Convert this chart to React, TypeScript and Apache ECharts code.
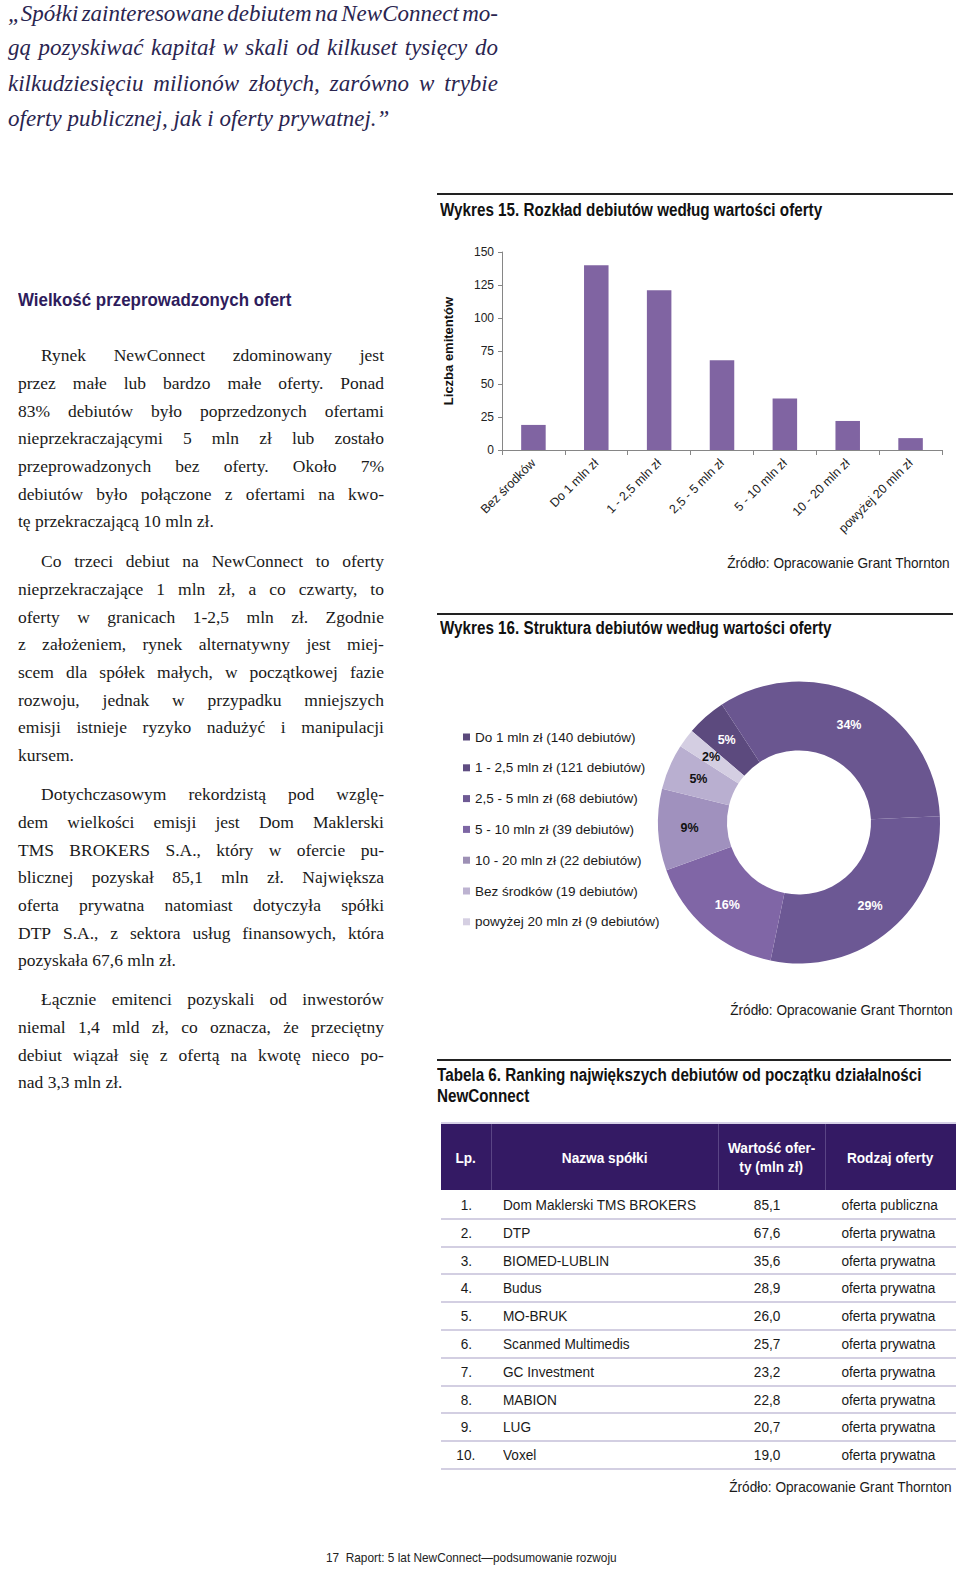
import React, { useEffect, useRef } from "react";
import * as echarts from "echarts";

// ---------- DATA ----------
const categories = [
  "Bez środków",
  "Do 1 mln zł",
  "1 - 2,5 mln zł",
  "2,5 - 5 mln zł",
  "5 - 10 mln zł",
  "10 - 20 mln zł",
  "powyżej 20 mln zł",
];
const debutCounts = [19, 140, 121, 68, 39, 22, 9];
const yMin = 0;
const yMax = 150;
const yInterval = 25;

const pieSliceNames = [
  "Bez środków (19 debiutów)",
  "Do 1 mln zł (140 debiutów)",
  "1 - 2,5 mln zł (121 debiutów)",
  "2,5 - 5 mln zł (68 debiutów)",
  "5 - 10 mln zł (39 debiutów)",
  "10 - 20 mln zł (22 debiutów)",
  "powyżej 20 mln zł (9 debiutów)",
];
const pieSliceColors = ["#5c4a7e", "#6a5690", "#6c5894", "#8066a6", "#a091be", "#b9afd0", "#d4cee2"];
const pieLabelColors = ["#ffffff", "#ffffff", "#ffffff", "#ffffff", "#111111", "#111111", "#111111"];
const legendOrder = [
  "Do 1 mln zł (140 debiutów)",
  "1 - 2,5 mln zł (121 debiutów)",
  "2,5 - 5 mln zł (68 debiutów)",
  "5 - 10 mln zł (39 debiutów)",
  "10 - 20 mln zł (22 debiutów)",
  "Bez środków (19 debiutów)",
  "powyżej 20 mln zł (9 debiutów)",
];
const legendColors = ["#5b4a7c", "#5f4d82", "#6e5a94", "#7d66a4", "#9d90b5", "#bdb3d1", "#d5cfe2"];

const tableHeader = ["Lp.", "Nazwa spółki", "Wartość ofer-\nty (mln zł)", "Rodzaj oferty"];
const tableLp = ["1.", "2.", "3.", "4.", "5.", "6.", "7.", "8.", "9.", "10."];
const tableNames = [
  "Dom Maklerski TMS BROKERS",
  "DTP",
  "BIOMED-LUBLIN",
  "Budus",
  "MO-BRUK",
  "Scanmed Multimedis",
  "GC Investment",
  "MABION",
  "LUG",
  "Voxel",
];
const tableValues = ["85,1", "67,6", "35,6", "28,9", "26,0", "25,7", "23,2", "22,8", "20,7", "19,0"];
const tableTypes = [
  "oferta publiczna",
  "oferta prywatna",
  "oferta prywatna",
  "oferta prywatna",
  "oferta prywatna",
  "oferta prywatna",
  "oferta prywatna",
  "oferta prywatna",
  "oferta prywatna",
  "oferta prywatna",
];

const quoteLines = [
  "„Spółki zainteresowane debiutem na NewConnect mo-",
  "gą pozyskiwać kapitał w skali od kilkuset tysięcy do",
  "kilkudziesięciu milionów złotych, zarówno w trybie",
  "oferty publicznej, jak i oferty prywatnej.”",
];

const paragraphs: { top: number; lines: string[] }[] = [
  {
    top: 356,
    lines: [
      "Rynek NewConnect zdominowany jest",
      "przez małe lub bardzo małe oferty. Ponad",
      "83% debiutów było poprzedzonych ofertami",
      "nieprzekraczającymi 5 mln zł lub zostało",
      "przeprowadzonych bez oferty. Około 7%",
      "debiutów było połączone z ofertami na kwo-",
      "tę przekraczającą 10 mln zł.",
    ],
  },
  {
    top: 562,
    lines: [
      "Co trzeci debiut na NewConnect to oferty",
      "nieprzekraczające 1 mln zł, a co czwarty, to",
      "oferty w granicach 1-2,5 mln zł. Zgodnie",
      "z założeniem, rynek alternatywny jest miej-",
      "scem dla spółek małych, w początkowej fazie",
      "rozwoju, jednak w przypadku mniejszych",
      "emisji istnieje ryzyko nadużyć i manipulacji",
      "kursem.",
    ],
  },
  {
    top: 795,
    lines: [
      "Dotychczasowym rekordzistą pod wzglę-",
      "dem wielkości emisji jest Dom Maklerski",
      "TMS BROKERS S.A., który w ofercie pu-",
      "blicznej pozyskał 85,1 mln zł. Największa",
      "oferta prywatna natomiast dotyczyła spółki",
      "DTP S.A., z sektora usług finansowych, która",
      "pozyskała 67,6 mln zł.",
    ],
  },
  {
    top: 1000,
    lines: [
      "Łącznie emitenci pozyskali od inwestorów",
      "niemal 1,4 mld zł, co oznacza, że przeciętny",
      "debiut wiązał się z ofertą na kwotę nieco po-",
      "nad 3,3 mln zł.",
    ],
  },
];

// ---------- STYLE ----------
const SANS = "'Liberation Sans', Arial, sans-serif";
const SERIF = "'Liberation Serif', 'Times New Roman', serif";

const JustLine: React.FC<{ text: string; justify: boolean; style?: React.CSSProperties }> = ({ text, justify, style }) => {
  if (!justify) {
    return <div style={{ whiteSpace: "nowrap", ...style }}>{text}</div>;
  }
  const words = text.split(" ");
  return (
    <div style={{ display: "flex", justifyContent: "space-between", whiteSpace: "nowrap", ...style }}>
      {words.map((w, i) => (
        <span key={i}>{w}</span>
      ))}
    </div>
  );
};

const Sq: React.FC<{ k: number; origin: string; pre?: boolean; children: React.ReactNode }> = ({ k, origin, pre, children }) => (
  <span
    style={{
      display: "inline-block",
      transform: `scaleX(${k})`,
      transformOrigin: origin,
      whiteSpace: pre ? "pre" : "nowrap",
    }}
  >
    {children}
  </span>
);

const abs = (left: number, top: number, extra: React.CSSProperties = {}): React.CSSProperties => ({
  position: "absolute",
  left,
  top,
  ...extra,
});

export default function App() {
  const ref = useRef<HTMLDivElement>(null);

  useEffect(() => {
    document.body.style.margin = "0";
    if (!ref.current) return;
    const chart = echarts.init(ref.current, undefined, { renderer: "svg" });
    const y0 = 230;
    chart.setOption({
      animation: false,
      textStyle: { fontFamily: SANS },
      grid: { left: 72, top: 252 - y0, width: 440, height: 198, containLabel: false },
      xAxis: {
        type: "category",
        data: categories,
        axisLine: { lineStyle: { color: "#868686", width: 1 } },
        axisTick: { show: true, length: 5, lineStyle: { color: "#868686" } },
        axisLabel: { rotate: 45, interval: 0, fontSize: 12.5, color: "#222", margin: 11, fontFamily: SANS },
      },
      yAxis: {
        type: "value",
        min: yMin,
        max: yMax,
        interval: yInterval,
        name: "Liczba emitentów",
        nameLocation: "middle",
        nameGap: 47,
        nameRotate: 90,
        nameTextStyle: { fontSize: 13, fontWeight: "bold", color: "#111", fontFamily: SANS },
        axisLine: { show: true, lineStyle: { color: "#868686" } },
        axisTick: { show: true, length: 4, lineStyle: { color: "#868686" } },
        splitLine: { show: false },
        axisLabel: { fontSize: 12, color: "#222", margin: 8, fontFamily: SANS },
      },
      legend: {
        orient: "vertical",
        left: 28,
        top: 735 - y0 - 11,
        itemWidth: 7,
        itemHeight: 7,
        itemGap: 14.8,
        icon: "rect",
        selectedMode: false,
        textStyle: { fontSize: 13.5, color: "#1a1a1a", lineHeight: 16, fontFamily: SANS },
        data: legendOrder.map((n, i) => ({ name: n, itemStyle: { color: legendColors[i] } })),
      },
      series: [
        {
          type: "bar",
          data: debutCounts,
          barWidth: "39%",
          itemStyle: { color: "#8064a2" },
          xAxisIndex: 0,
          yAxisIndex: 0,
        },
        {
          type: "pie",
          center: [369, 822.5 - y0],
          radius: [72, 141],
          startAngle: 139.5,
          clockwise: true,
          percentPrecision: 0,
          label: {
            show: true,
            position: "inside",
            formatter: "{d}%",
            fontSize: 12.5,
            fontWeight: "bold",
            fontFamily: SANS,
          },
          labelLine: { show: false },
          itemStyle: { borderWidth: 0 },
          emphasis: { disabled: true },
          data: pieSliceNames.map((n, i) => ({
            name: n,
            value: debutCounts[i],
            itemStyle: { color: pieSliceColors[i] },
            label: { color: pieLabelColors[i] },
          })),
        },
      ],
    });
    return () => chart.dispose();
  }, []);

  const lineH = 27.7;
  const rowTop = 1191;
  const rowH = 27.8;

  const titleStyle = (left: number, cy: number): React.CSSProperties =>
    abs(left, cy - 11, {
      lineHeight: "22px",
      fontFamily: SANS,
      fontWeight: "bold",
      fontSize: 17.5,
      color: "#111",
      whiteSpace: "nowrap",
    });

  const sourceStyle = (right: number, cy: number): React.CSSProperties =>
    abs(right - 350, cy - 10, {
      width: 350,
      textAlign: "right",
      lineHeight: "20px",
      fontFamily: SANS,
      fontSize: 14.5,
      color: "#1a1a1a",
      whiteSpace: "nowrap",
    });

  return (
    <div style={{ position: "relative", width: 960, height: 1571, background: "#fff", overflow: "hidden" }}>
      {/* Quote */}
      {quoteLines.map((l, i) => (
        <JustLine
          key={i}
          text={l}
          justify={i < quoteLines.length - 1}
          style={abs(8, [14, 48, 84, 119][i] - 17, {
            width: 490,
            height: 34,
            lineHeight: "34px",
            fontFamily: SERIF,
            fontStyle: "italic",
            fontSize: 23,
            color: "#2a2550",
          })}
        />
      ))}

      {/* Heading */}
      <div
        style={abs(18, 300 - 12, {
          lineHeight: "24px",
          fontFamily: SANS,
          fontWeight: "bold",
          fontSize: 19,
          color: "#2e1c5c",
          whiteSpace: "nowrap",
        })}
      >
        <Sq k={0.89} origin="left center">Wielkość przeprowadzonych ofert</Sq>
      </div>

      {/* Body paragraphs */}
      {paragraphs.map((p, pi) =>
        p.lines.map((l, li) => {
          const isLast = li === p.lines.length - 1;
          const indent = li === 0 ? 23 : 0;
          return (
            <JustLine
              key={pi + "-" + li}
              text={l}
              justify={!isLast}
              style={abs(18 + indent, p.top + li * lineH - lineH / 2, {
                width: 366 - indent,
                height: lineH,
                lineHeight: lineH + "px",
                fontFamily: SERIF,
                fontSize: 17.5,
                color: "#1a1a1a",
              })}
            />
          );
        })
      )}

      {/* Right column headings and rules */}
      <div style={abs(437, 193, { width: 516, height: 2, background: "#222" })} />
      <div style={titleStyle(440, 210)}>
        <Sq k={0.87} origin="left center">Wykres 15. Rozkład debiutów według wartości oferty</Sq>
      </div>
      <div style={sourceStyle(950, 563)}>
        <Sq k={0.94} origin="right center">Źródło: Opracowanie Grant Thornton</Sq>
      </div>

      <div style={abs(437, 613, { width: 516, height: 2, background: "#222" })} />
      <div style={titleStyle(440, 628)}>
        <Sq k={0.87} origin="left center">Wykres 16. Struktura debiutów według wartości oferty</Sq>
      </div>
      <div style={sourceStyle(953, 1010)}>
        <Sq k={0.94} origin="right center">Źródło: Opracowanie Grant Thornton</Sq>
      </div>

      {/* Chart canvas */}
      <div ref={ref} style={abs(430, 230, { width: 530, height: 780 })} />

      {/* Table */}
      <div style={abs(437, 1059, { width: 514, height: 2, background: "#222" })} />
      <div style={titleStyle(437, 1075)}>
        <Sq k={0.87} origin="left center">Tabela 6. Ranking największych debiutów od początku działalności</Sq>
      </div>
      <div style={titleStyle(437, 1096)}>
        <Sq k={0.87} origin="left center">NewConnect</Sq>
      </div>

      <div style={abs(441, 1122, { width: 515, height: 2, background: "#d6d0e6" })} />
      <div style={abs(441, 1124, { width: 515, height: 66, background: "#341a64" })} />
      {[491, 718, 825].map((x, i) => (
        <div key={i} style={abs(x, 1124, { width: 1, height: 66, background: "#5a4585" })} />
      ))}
      {tableHeader.map((h, i) => {
        const cols = [441, 491, 718, 825, 956];
        const lines = h.split("\n");
        return (
          <div
            key={i}
            style={abs(cols[i], 1124, {
              width: cols[i + 1] - cols[i],
              height: 66,
              display: "flex",
              flexDirection: "column",
              justifyContent: "center",
              alignItems: "center",
              fontFamily: SANS,
              fontWeight: "bold",
              fontSize: 15.5,
              lineHeight: "19px",
              color: "#fff",
            })}
          >
            {lines.map((l, k) => (
              <div key={k} style={{ whiteSpace: "nowrap" }}>
                <Sq k={0.88} origin="center center">{l}</Sq>
              </div>
            ))}
          </div>
        );
      })}
      {tableLp.map((lp, r) => {
        const top = rowTop + r * rowH;
        const cell: React.CSSProperties = {
          lineHeight: rowH + "px",
          height: rowH,
          fontFamily: SANS,
          fontSize: 15.5,
          color: "#1a1a1a",
          whiteSpace: "nowrap",
        };
        return (
          <React.Fragment key={r}>
            <div style={abs(441, top, { ...cell, width: 50, textAlign: "center" })}>
              <Sq k={0.88} origin="center center">{lp}</Sq>
            </div>
            <div style={abs(503, top, cell)}>
              <Sq k={0.88} origin="left center">{tableNames[r]}</Sq>
            </div>
            <div style={abs(718, top, { ...cell, width: 98, textAlign: "center" })}>
              <Sq k={0.88} origin="center center">{tableValues[r]}</Sq>
            </div>
            <div style={abs(835, top, { ...cell, width: 106, textAlign: "center" })}>
              <Sq k={0.88} origin="center center">{tableTypes[r]}</Sq>
            </div>
            <div style={abs(441, top + rowH - 1, { width: 515, height: 2, background: "#d3cfe2" })} />
          </React.Fragment>
        );
      })}
      <div style={sourceStyle(952, 1487)}>
        <Sq k={0.94} origin="right center">Źródło: Opracowanie Grant Thornton</Sq>
      </div>

      {/* Footer */}
      <div
        style={abs(326, 1558 - 9, {
          lineHeight: "18px",
          fontFamily: SANS,
          fontSize: 13,
          color: "#222",
          whiteSpace: "pre",
        })}
      >
        <Sq k={0.91} origin="left center" pre>
          {"17  Raport: 5 lat NewConnect—podsumowanie rozwoju"}
        </Sq>
      </div>
    </div>
  );
}
